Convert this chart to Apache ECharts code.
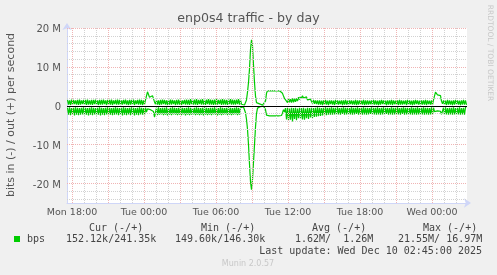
<!DOCTYPE html>
<html><head><meta charset="utf-8">
<script src="https://cdn.jsdelivr.net/npm/echarts@6/dist/echarts.min.js"></script>
<style>html,body{margin:0;padding:0;background:#f0f0f0}#c{width:497px;height:275px}</style>
</head><body><div id="c"></div>
<script>
// ---- data (bits per second, in millions) ----
const xTickHours = [18, 24, 30, 36, 42, 48];
const xTickLabels = ['Mon 18:00', 'Tue 00:00', 'Tue 06:00', 'Tue 12:00', 'Tue 18:00', 'Wed 00:00'];
const yTickValues = [-20, -10, 0, 10, 20];
const yTickLabels = ['-20 M', '-10 M', '0', '10 M', '20 M'];
const legendHeaders = ['Cur (-/+)', 'Min (-/+)', 'Avg (-/+)', 'Max (-/+)'];
const legendValues = ['152.12k/241.35k', '149.60k/146.30k', '1.62M/  1.26M', '21.55M/ 16.97M'];
const lastUpdate = 'Last update: Wed Dec 10 02:45:00 2025';

// out (+), one sample per 5 minutes, starting Mon 17:35
const outM = [
1.5,0.3,1.4,0.2,1.6,0.3,1.5,0.4,1.4,0.3, 1.5,0.2,1.6,0.3,1.4,0.4,1.5,0.3,1.5,0.2, 1.6,0.3,1.4,0.3,1.5,0.2,1.5,0.4,1.6,0.3, 1.4,0.2,1.5,0.3,1.5,0.3,1.6,0.4,1.4,0.2,
1.5,0.3,1.5,0.3,1.6,0.2,1.4,0.4,1.5,0.3, 1.6,0.3,1.5,0.2,1.4,0.3,1.5,0.4,1.6,0.3, 1.4,0.2,1.5,0.3,1.5,0.3,1.6,0.2,1.4,0.4, 1.5,0.3,1.6,0.3,1.5,0.2,1.4,0.3,1.5,
1.8,3.6,2.9,2.2,2.5,2.7,2.6,2.4,1.0,0.4,
1.5,0.3,1.4,0.2,1.5,0.3,1.6,0.4,1.5,0.3, 1.4,0.2,1.5,0.3,1.6,0.3,1.5,0.4,1.4,0.2, 1.5,0.3,1.6,0.3,1.5,0.2,1.4,0.4,1.5,0.3, 1.6,0.3,1.5,0.2,1.7,0.4,1.5,0.3,1.6,0.3,
1.7,0.2,1.5,0.4,1.6,0.3,1.7,0.3,1.5,0.2, 1.6,0.4,1.7,0.3,1.6,0.3,1.5,0.2,1.6,0.3, 1.7,0.3,1.5,0.4,1.6,0.2,1.7,0.3,1.6,0.3, 1.5,0.2,1.6,0.4,1.7,0.3,1.6,0.3,1.5,0.3,
1.6,0.4,1.7,0.3,1.5,
0.4,0.2,0.1,0.2,0.5,
1.5,3.5,6.0,9.5,14.5,16.97,15.5,10.5,6.0,2.5,0.8,
0.3,0.4,0.5,0.4,0.3,0.2,0.3,0.4,1.2,
3.2,3.85,3.85,3.85,3.85,3.85,3.85,3.85,3.85,3.85,3.85,3.85,3.85,3.85,3.85,3.8,
3.2,2.5,1.9,1.6,
1.7,0.8,1.8,0.9,1.7,0.8,1.9,0.9,1.8,1.0, 1.9,1.2,2.2,1.6,2.4,1.8,2.6,2.0,2.5,1.8, 2.3,1.5,2.0,1.0,1.7,
1.6,0.6,1.5,0.5,1.4,0.4,1.4,0.3,1.4,
0.3,1.3,0.2,1.4,0.3,1.5,0.3,1.3,0.2,1.4, 0.4,1.4,0.3,1.3,0.2,1.5,0.3,1.4,0.3,1.3, 0.4,1.4,0.2,1.4,0.3,1.5,0.3,1.3,0.2,1.4, 0.4,1.4,0.3,1.3,0.3,1.5,0.2,1.4,0.3,1.4,
0.4,1.3,0.3,1.5,0.2,1.4,0.3,1.4,0.3,1.3, 0.4,1.4,0.2,1.5,0.3,1.4,0.3,1.3,0.2,1.4, 0.3,1.5,0.4,1.4,0.3,1.3,0.2,1.4,0.3,1.4, 0.3,1.5,0.2,1.4,0.4,1.3,0.3,1.4,0.2,1.5,
0.3,1.4,0.3,1.3,0.4,1.4,0.2,1.5,0.3,1.4, 0.3,1.3,0.2,1.4,0.3,1.5,0.4,1.4,0.3,1.3, 0.2,1.4,0.3,1.4,0.3,1.5,0.2,1.4,0.4,1.3, 0.3,1.4,0.2,1.5,
1.8,3.5,3.0,2.8,2.9,2.8,2.6,1.2,0.5,
1.4,0.3,1.3,0.2,1.5,0.3,1.4,0.3,1.3,0.2, 1.4,0.3,1.5,0.4,1.4,0.3,1.3,0.2,1.4,0.3, 1.5,0.3,1.4,0.24
];

// in (-), magnitudes, same sampling
const inM = [
0.5,2.3,0.4,2.4,0.6,2.2,0.5,2.5,0.4,2.3, 0.5,2.4,0.6,2.3,0.5,2.2,0.4,2.4,0.5,2.3, 0.6,2.5,0.5,2.3,0.4,2.4,0.5,2.2,0.6,2.4, 0.5,2.3,0.4,2.5,0.5,2.3,0.6,2.4,0.5,2.2,
0.4,2.4,0.5,2.3,0.6,2.4,0.5,2.3,0.4,2.2, 0.5,2.4,0.6,2.3,0.5,2.5,0.4,2.3,0.5,2.4, 0.6,2.2,0.5,2.4,0.4,2.3,0.5,2.5,0.6,2.3, 0.5,2.4,0.4,2.2,0.5,2.3,0.6,2.4,0.5,
1.6,0.8,1.0,1.1,1.0,1.2,1.3,1.5,2.9,2.5,
0.5,2.4,0.4,2.3,0.6,2.2,0.5,2.4,0.5,2.3, 0.4,2.5,0.6,2.3,0.5,2.4,0.4,2.2,0.5,2.3, 0.6,2.4,0.5,2.3,0.4,2.4,0.5,2.2,0.6,2.5, 0.5,2.3,0.4,2.4,0.5,2.3,0.6,2.2,0.5,2.4,
0.4,2.3,0.5,2.4,0.6,2.3,0.5,2.5,0.4,2.3, 0.5,2.4,0.6,2.3,0.5,2.4,0.5,2.2,0.4,2.3, 0.5,2.5,0.6,2.3,0.4,2.4,0.5,2.3,0.6,2.2, 0.5,2.4,0.4,2.3,0.5,2.4,0.6,2.3,0.5,2.2,
0.4,2.4,0.5,2.3,0.5,
0.4,0.2,0.3,0.8,1.8,
3.5,6.0,10.0,15.0,19.5,21.55,19.0,14.5,10.0,5.5,2.0,
0.6,0.2,0.1,0.2,0.1,0.2,0.1,0.2,1.0,
2.4,2.6,2.6,2.6,2.6,2.6,2.6,2.6,2.6,2.6,2.6,2.6,2.6,2.6,2.6,2.5,
1.8,1.0,1.6,0.6,
3.5,0.5,3.8,0.7,3.6,0.5,4.0,0.6,3.4,0.5, 3.7,0.7,3.2,0.5,3.3,0.6,3.5,0.5,3.6,0.7, 3.2,0.5,3.4,0.6,3.0,
0.5,3.1,0.6,2.9,0.5,2.8,0.4,2.7,0.5,2.6, 0.6,2.5,0.5,2.4,0.4,2.4,0.5,2.3,0.5,2.3, 0.4,
2.3,0.5,2.2,0.5,2.3,0.4,2.2,0.6,2.3,0.5, 2.1,0.4,2.3,0.5,2.2,0.5,2.3,0.6,2.2,0.4, 2.3,0.5,2.2,0.5,2.1,0.4,2.3,0.6,2.2,0.5, 2.3,0.4,2.2,0.5,2.3,0.5,2.2,0.6,2.1,0.4,
2.3,0.5,2.2,0.5,2.3,0.4,2.2,0.6,2.3,0.5, 2.2,0.4,2.3,0.5,2.1,0.5,2.3,0.6,2.2,0.4, 2.3,0.5,2.2,0.5,2.3,0.4,2.2,0.6,2.3,0.5, 2.1,0.4,2.3,0.5,2.2,0.5,2.3,0.6,2.2,0.4,
2.3,0.5,2.2,0.5,2.3,0.4,2.2,0.6,2.3,0.5, 2.2,0.4,2.3,0.5,2.2,0.5,2.3,0.6,2.2,0.4, 2.3,0.5,
1.5,1.1,1.2,1.3,1.2,1.3,1.4,2.2,1.8,
0.5,2.3,0.4,2.2,0.6,2.3,0.5,2.2,0.5,2.3, 0.4,2.2,0.6,2.3,0.5,2.2,0.4,2.3,0.6,2.2, 0.5,2.3,0.4,0.15
];

const startHour = 17 + 35 / 60;   // Mon 17:35
const stepHours = 5 / 60;         // 5-minute samples
const sampleCount = 400;

// ---- build ----
const M = 1e6;
const xMin = startHour, xMax = startHour + sampleCount * stepHours;
const outData = outM.map((v, i) => [startHour + (i + 0.5) * stepHours, v * M]);
const inData = inM.map((v, i) => [startHour + (i + 0.5) * stepHours, -v * M]);

const GRAY = '#d2d2d2', RED = '#f0b4b4';
const gridLines = [];
for (let v = -24; v <= 18; v += 2) if (v % 10 !== 0) gridLines.push({ yAxis: v * M, lineStyle: { color: GRAY } });
for (let h = 18; h <= 50; h++) if (h % 3 !== 0) gridLines.push({ xAxis: h, lineStyle: { color: GRAY } });
for (const v of [-20, -10, 10, 20]) gridLines.push({ yAxis: v * M, lineStyle: { color: RED } });
for (let h = 18; h <= 50; h += 3) gridLines.push({ xAxis: h, lineStyle: { color: RED } });

const TXT = (text, x, y, o = {}) => ({
  type: 'text', x, y, rotation: o.rot || 0, silent: true, z: 10,
  style: {
    text, fill: o.fill || '#444', fontSize: o.size || 10,
    fontFamily: o.font || '"DejaVu Sans Mono"',
    align: o.align || 'left', verticalAlign: 'middle',
    textAlign: o.align || 'left', textVerticalAlign: 'middle'
  }
});

const headerX = [89, 201, 312, 423];
const valueX = [66, 175, 295, 398];
const graphics = [
  TXT('enp0s4 traffic - by day', 248.5, 19, { size: 12.6, font: '"DejaVu Sans"', align: 'center', fill: '#555' }),
  TXT('bits in (-) / out (+) per second', 11, 115, { size: 11, font: '"DejaVu Sans"', align: 'center', fill: '#555', rot: Math.PI / 2 }),
  TXT('RRDTOOL / TOBI OETIKER', 490, 53, { size: 7.5, font: '"DejaVu Sans"', align: 'center', fill: '#c8c8c8', rot: -Math.PI / 2 }),
  { type: 'rect', shape: { x: 14, y: 236, width: 6, height: 6 }, style: { fill: '#00cc00' }, silent: true },
  TXT('bps', 27, 239.5),
  TXT(lastUpdate, 482, 251, { align: 'right' }),
  TXT('Munin 2.0.57', 248, 264, { size: 8, font: '"DejaVu Sans"', align: 'center', fill: '#c8c8c8' })
];
legendHeaders.forEach((t, i) => graphics.push(TXT(t, headerX[i], 228)));
legendValues.forEach((t, i) => graphics.push(TXT(t, valueX[i], 239.5)));

const chart = echarts.init(document.getElementById('c'), null, { renderer: 'canvas', width: 497, height: 275 });
const option = {
  animation: false,
  backgroundColor: '#f0f0f0',
  grid: { left: 67, top: 28, width: 400, height: 175, show: true, backgroundColor: '#ffffff', borderWidth: 0, outerBoundsMode: 'none' },
  xAxis: {
    type: 'value', min: xMin, max: xMax,
    axisLine: { show: true, onZero: false, lineStyle: { color: '#CFD6F8', width: 1 }, symbol: ['none', 'arrow'], symbolSize: [7, 7], symbolOffset: [0, 4] },
    axisTick: { show: false }, splitLine: { show: false },
    axisLabel: {
      customValues: xTickHours,
      formatter: v => { const k = xTickHours.indexOf(Math.round(v)); return k >= 0 ? xTickLabels[k] : ''; },
      fontSize: 9.5, color: '#555', fontFamily: '"DejaVu Sans"', margin: 5
    }
  },
  yAxis: {
    type: 'value', min: -25 * M, max: 20 * M,
    axisLine: { show: true, onZero: false, lineStyle: { color: '#CFD6F8', width: 1 }, symbol: ['none', 'arrow'], symbolSize: [7, 7], symbolOffset: [0, 5] },
    axisTick: { show: false }, splitLine: { show: false },
    axisLabel: { show: false }
  },
  series: [
    { type: 'line', data: [], z: 1, silent: true,
      markLine: { silent: true, symbol: 'none', label: { show: false }, animation: false,
        lineStyle: { type: [1, 1], width: 1 }, data: gridLines } },
    { name: 'out', type: 'line', data: outData, showSymbol: false, z: 3, silent: true,
      lineStyle: { color: '#00cc00', width: 1.2 }, itemStyle: { color: '#00cc00' } },
    { name: 'in', type: 'line', data: inData, showSymbol: false, z: 3, silent: true,
      lineStyle: { color: '#00cc00', width: 1.2 }, itemStyle: { color: '#00cc00' } },
    { type: 'line', data: [], z: 5, silent: true,
      markLine: { silent: true, symbol: 'none', label: { show: false }, animation: false,
        data: [ { yAxis: 0, lineStyle: { color: '#000', type: 'solid', width: 1 } },
                { xAxis: xMax, lineStyle: { color: '#a0a0a0', type: 'solid', width: 1 } } ] } }
  ],
  graphic: graphics
};
chart.setOption(option);
// y tick labels placed through the y axis scale (glyph-centred like rrdtool)
yTickValues.forEach((v, i) => {
  const py = chart.convertToPixel({ yAxisIndex: 0 }, v * M);
  graphics.push(TXT(yTickLabels[i], 61, py + 1.5, { size: 10, font: '"DejaVu Sans"', align: 'right', fill: '#555' }));
});
chart.setOption({ graphic: graphics });
</script></body></html>
